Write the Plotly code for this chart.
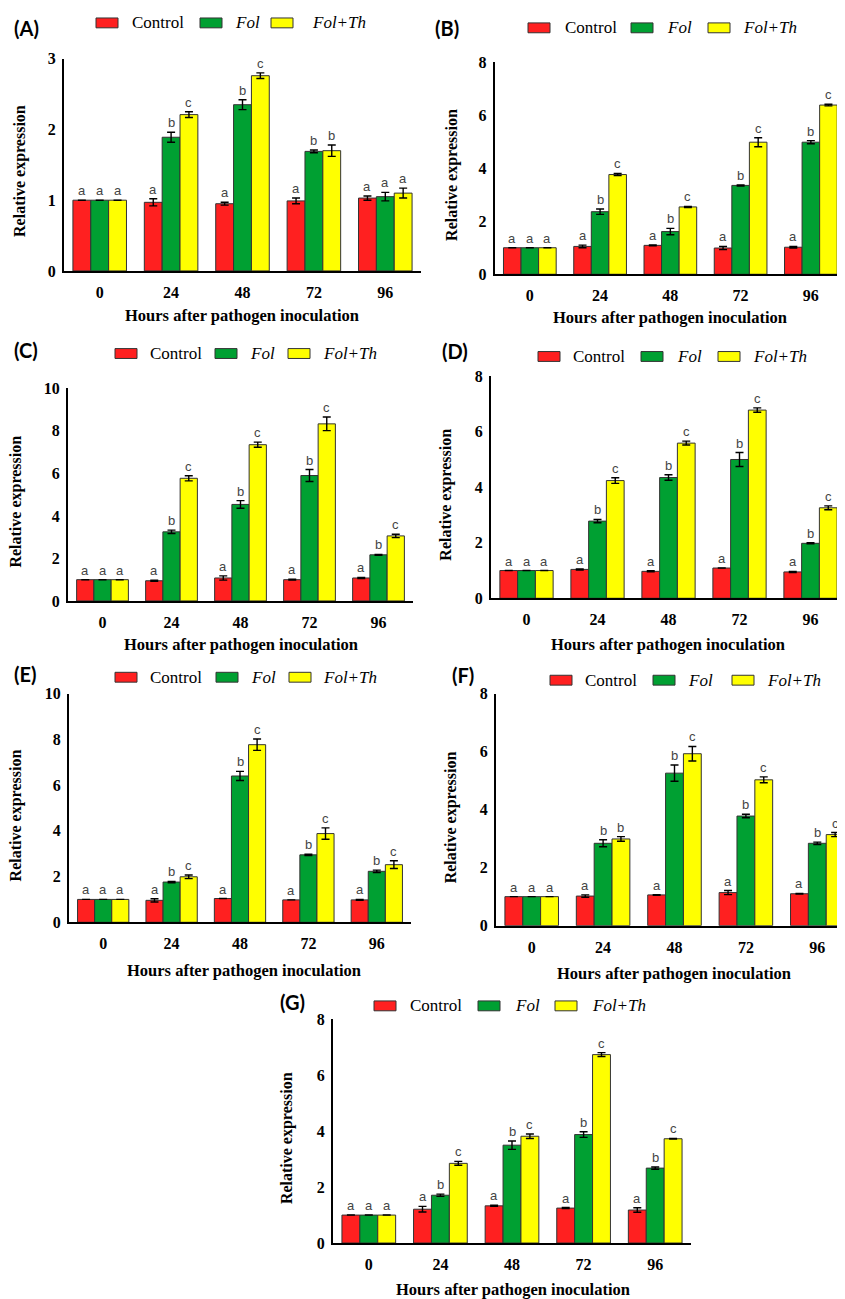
import plotly.graph_objects as go

W, H = 845, 1299
hours = ["0", "24", "48", "72", "96"]
groups = ["Control", "Fol", "Fol+Th"]
group_labels = ["Control", "<i>Fol</i>", "<i>Fol+Th</i>"]
colors = ["#FF2020", "#00A032", "#FFFF00"]

# ---- data ----
A_ctrl = [1.00, 0.97, 0.95, 0.99, 1.03]
A_fol = [1.00, 1.89, 2.35, 1.69, 1.05]
A_folth = [1.00, 2.21, 2.76, 1.70, 1.10]
A_ctrl_err = [0, 0.05, 0.02, 0.04, 0.03]
A_fol_err = [0, 0.07, 0.07, 0.02, 0.06]
A_folth_err = [0, 0.04, 0.04, 0.08, 0.07]
A_let = [["a"] * 5, ["a", "b", "b", "b", "a"], ["a", "c", "c", "b", "a"]]

B_ctrl = [1.00, 1.05, 1.09, 0.99, 1.02]
B_fol = [1.00, 2.36, 1.61, 3.35, 4.98]
B_folth = [1.00, 3.76, 2.54, 4.98, 6.38]
B_ctrl_err = [0, 0.05, 0.02, 0.06, 0.03]
B_fol_err = [0, 0.10, 0.12, 0.02, 0.06]
B_folth_err = [0, 0.04, 0.02, 0.17, 0.03]
B_let = [["a"] * 5, ["a", "b", "b", "b", "b"], ["a", "c", "c", "c", "c"]]

C_ctrl = [1.00, 0.95, 1.08, 1.00, 1.08]
C_fol = [1.00, 3.25, 4.54, 5.90, 2.17]
C_folth = [1.00, 5.77, 7.35, 8.33, 3.06]
C_ctrl_err = [0, 0.03, 0.10, 0.02, 0.03]
C_fol_err = [0, 0.08, 0.18, 0.28, 0.02]
C_folth_err = [0, 0.12, 0.12, 0.32, 0.08]
C_let = [["a"] * 5, ["a", "b", "b", "b", "b"], ["a", "c", "c", "c", "c"]]

D_ctrl = [1.00, 1.04, 0.97, 1.09, 0.95]
D_fol = [1.00, 2.78, 4.35, 5.00, 1.98]
D_folth = [1.00, 4.24, 5.59, 6.78, 3.26]
D_ctrl_err = [0, 0.02, 0.02, 0.0, 0.02]
D_fol_err = [0, 0.06, 0.10, 0.25, 0.02]
D_folth_err = [0, 0.10, 0.07, 0.08, 0.07]
D_let = [["a"] * 5, ["a", "b", "b", "b", "b"], ["a", "c", "c", "c", "c"]]

E_ctrl = [1.00, 0.96, 1.04, 0.98, 0.98]
E_fol = [1.00, 1.76, 6.40, 2.95, 2.23]
E_folth = [1.00, 1.99, 7.77, 3.88, 2.52]
E_ctrl_err = [0, 0.07, 0.0, 0.0, 0.02]
E_fol_err = [0, 0.03, 0.20, 0.03, 0.05]
E_folth_err = [0, 0.08, 0.25, 0.25, 0.17]
E_let = [["a"] * 5, ["a", "b", "b", "b", "b"], ["a", "c", "c", "c", "c"]]

F_ctrl = [1.00, 1.02, 1.06, 1.14, 1.10]
F_fol = [1.00, 2.84, 5.26, 3.78, 2.84]
F_folth = [1.00, 2.99, 5.93, 5.03, 3.14]
F_ctrl_err = [0, 0.04, 0.01, 0.07, 0.01]
F_fol_err = [0, 0.12, 0.28, 0.06, 0.04]
F_folth_err = [0, 0.08, 0.25, 0.10, 0.07]
F_let = [["a"] * 5, ["a", "b", "b", "b", "b"], ["a", "b", "c", "c", "c"]]

G_ctrl = [1.00, 1.21, 1.33, 1.25, 1.18]
G_fol = [1.00, 1.71, 3.50, 3.88, 2.68]
G_folth = [1.00, 2.85, 3.82, 6.74, 3.73]
G_ctrl_err = [0, 0.10, 0.02, 0.02, 0.08]
G_fol_err = [0, 0.04, 0.15, 0.10, 0.04]
G_folth_err = [0, 0.07, 0.08, 0.07, 0.01]
G_let = [["a"] * 5, ["a", "b", "b", "b", "b"], ["a", "c", "c", "c", "c"]]

panels = [
    ("(A)", [A_ctrl, A_fol, A_folth], [A_ctrl_err, A_fol_err, A_folth_err], A_let, 3, 1),
    ("(B)", [B_ctrl, B_fol, B_folth], [B_ctrl_err, B_fol_err, B_folth_err], B_let, 8, 2),
    ("(C)", [C_ctrl, C_fol, C_folth], [C_ctrl_err, C_fol_err, C_folth_err], C_let, 10, 2),
    ("(D)", [D_ctrl, D_fol, D_folth], [D_ctrl_err, D_fol_err, D_folth_err], D_let, 8, 2),
    ("(E)", [E_ctrl, E_fol, E_folth], [E_ctrl_err, E_fol_err, E_folth_err], E_let, 10, 2),
    ("(F)", [F_ctrl, F_fol, F_folth], [F_ctrl_err, F_fol_err, F_folth_err], F_let, 8, 2),
    ("(G)", [G_ctrl, G_fol, G_folth], [G_ctrl_err, G_fol_err, G_folth_err], G_let, 8, 2),
]

# ---- layout positions in pixels (style only) ----
geom = [
    dict(x0=56, x1=413, yb=258.3, yt=43.3, leg_y=7, boxes=[88, 192, 263], texts=[122, 225, 302],
         lab=(4, 12), ytit=(12, 157), xtit=(234, 303)),
    dict(x0=486.7, x1=838, yb=261.7, yt=46.7, leg_y=12, boxes=[520, 623, 700], texts=[555, 657, 733],
         lab=(425, 12), ytit=(444, 161), xtit=(662, 305)),
    dict(x0=60, x1=405, yb=592.7, yt=377.3, leg_y=342, boxes=[107, 207, 280], texts=[140, 240, 313],
         lab=(4, 338), ytit=(8, 492), xtit=(233, 637)),
    dict(x0=483, x1=838, yb=590, yt=365, leg_y=345, boxes=[530, 633, 710], texts=[563, 667, 743],
         lab=(432, 339), ytit=(438, 485), xtit=(660, 637)),
    dict(x0=61, x1=403, yb=918.3, yt=686.7, leg_y=670, boxes=[107, 208, 281], texts=[140, 241, 313],
         lab=(4, 667), ytit=(8, 810), xtit=(236, 967)),
    dict(x0=488, x1=845, yb=921.7, yt=686.7, leg_y=673, boxes=[542, 645, 724], texts=[575, 678, 757],
         lab=(442, 668), ytit=(443, 812), xtit=(666, 970)),
    dict(x0=325, x1=683, yb=1243.3, yt=1016.7, leg_y=1003, boxes=[366, 470, 547], texts=[400, 505, 582],
         lab=(270, 999), ytit=(279, 1137), xtit=(505, 1290)),
]

def PX(x):
    return x / W

def PY(y):
    return 1 - y / H

SERIF = "Liberation Serif"
BARGAP = 0.25

fig = go.Figure()
annotations = []
shapes = []
layout_axes = {}

for p, ((label, vals, errs, lets, ymax, dtick), g) in enumerate(zip(panels, geom)):
    n = p + 1
    xa = "x" if n == 1 else f"x{n}"
    ya = "y" if n == 1 else f"y{n}"
    xkey = "xaxis" if n == 1 else f"xaxis{n}"
    ykey = "yaxis" if n == 1 else f"yaxis{n}"
    for k in range(3):
        fig.add_trace(go.Bar(
            x=hours, y=vals[k], name=groups[k], xaxis=xa, yaxis=ya,
            offsetgroup=str(k), showlegend=False,
            marker=dict(color=colors[k], line=dict(color="#333333", width=1)),
            error_y=dict(type="data", array=errs[k], visible=True,
                         color="black", thickness=1.4, width=4),
        ))
        bw = (1 - BARGAP) / 3
        for i in range(5):
            annotations.append(dict(
                x=i + (k - 1) * bw, y=vals[k][i] + errs[k][i], xref=xa, yref=ya,
                text=lets[k][i], showarrow=False, yanchor="bottom", yshift=0,
                font=dict(family="Liberation Sans", size=13, color="#444444"),
            ))
    layout_axes[xkey] = dict(
        domain=[PX(g["x0"]), PX(g["x1"])], anchor=ya, type="category",
        range=[-0.5, 4.5], showline=True, linecolor="black", linewidth=2,
        ticks="", showgrid=False, zeroline=False, ticklabelstandoff=6,
        tickfont=dict(family=SERIF, size=16, color="black", weight="bold"),
    )
    layout_axes[ykey] = dict(
        domain=[PY(g["yb"]), PY(g["yt"])], anchor=xa, range=[0, ymax], dtick=dtick,
        showline=True, linecolor="black", linewidth=2, ticks="", showgrid=False,
        zeroline=False, ticklabelstandoff=3,
        tickfont=dict(family=SERIF, size=16, color="black", weight="bold"),
    )
    # legend (drawn)
    for k in range(3):
        bx = g["boxes"][k]
        shapes.append(dict(type="rect", xref="paper", yref="paper",
                           x0=PX(bx), x1=PX(bx + 22), y0=PY(g["leg_y"] + 5), y1=PY(g["leg_y"] - 5),
                           fillcolor=colors[k], line=dict(color="#333333", width=1)))
        annotations.append(dict(
            x=PX(g["texts"][k]), y=PY(g["leg_y"]), xref="paper", yref="paper",
            text=group_labels[k], showarrow=False, xanchor="left", yanchor="middle",
            font=dict(family=SERIF, size=17, color="black"),
        ))
    # panel label
    annotations.append(dict(
        x=PX(g["lab"][0]), y=PY(g["lab"][1]), xref="paper", yref="paper",
        text=label, showarrow=False, xanchor="left", yanchor="middle",
        font=dict(family="Lato", size=20, color="black", weight="bold"),
    ))
    # axis titles
    annotations.append(dict(
        x=PX(g["ytit"][0]), y=PY(g["ytit"][1]), xref="paper", yref="paper",
        text="Relative expression", showarrow=False, textangle=-90,
        xanchor="center", yanchor="middle",
        font=dict(family=SERIF, size=16, color="black", weight="bold"),
    ))
    annotations.append(dict(
        x=PX(g["xtit"][0]), y=PY(g["xtit"][1]), xref="paper", yref="paper",
        text="Hours after pathogen inoculation", showarrow=False,
        xanchor="center", yanchor="middle",
        font=dict(family=SERIF, size=16.5, color="black", weight="bold"),
    ))

fig.update_layout(
    width=W, height=H, margin=dict(l=0, r=0, t=0, b=0),
    paper_bgcolor="white", plot_bgcolor="white",
    barmode="group", bargap=BARGAP, bargroupgap=0,
    annotations=annotations, shapes=shapes, showlegend=False,
    **layout_axes,
)

fig.write_html("out.html")
